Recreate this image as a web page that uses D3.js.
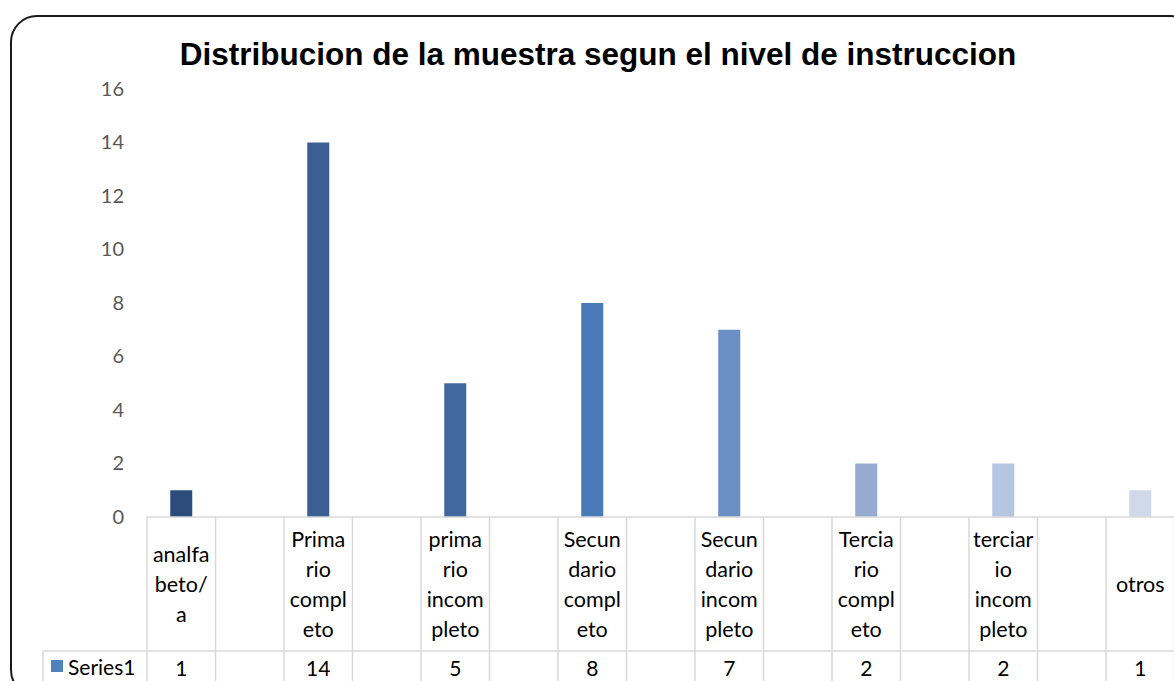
<!DOCTYPE html>
<html>
<head>
<meta charset="utf-8">
<script src="https://cdn.jsdelivr.net/npm/d3@7"></script>
<style>
  body { margin: 0; background: #fff; }
  svg { display: block; }
</style>
</head>
<body>
<div id="chart"></div>
<script>
// data: 8 categories, Excel leaves an empty slot between each one
var categories = ["analfabeto/a", "Primario completo", "primario incompleto", "Secundario completo",
  "Secundario incompleto", "Terciario completo", "terciario incompleto", "otros"];
var labelLines = [["analfa", "beto/", "a"], ["Prima", "rio", "compl", "eto"], ["prima", "rio", "incom", "pleto"],
  ["Secun", "dario", "compl", "eto"], ["Secun", "dario", "incom", "pleto"], ["Tercia", "rio", "compl", "eto"],
  ["terciar", "io", "incom", "pleto"], ["otros"]];
var values = [1, 14, 5, 8, 7, 2, 2, 1];
var barColors = ["#2c4d7b", "#3b5f91", "#41699f", "#4a7ab8", "#6b8fc4", "#95abd0", "#b6c5e0", "#d0d9ea"];
var yTicks = [0, 2, 4, 6, 8, 10, 12, 14, 16];
var seriesName = "Series1";

var width = 1174, height = 681;
var plotLeft = 147, plotRight = 1174.5, plotTop = 89, plotBottom = 517;
var rowSplit = 651;

// slots: category, blank, category, blank ...
var slots = d3.range(categories.length * 2 - 1);

var svg = d3.select("#chart").append("svg")
  .attr("width", width)
  .attr("height", height);

// chart frame (rounded, running off the right and bottom)
svg.append("rect")
  .attr("x", 11).attr("y", 16)
  .attr("width", 1185).attr("height", 680)
  .attr("rx", 26).attr("ry", 26)
  .attr("fill", "none")
  .attr("stroke", "#1a1a1a")
  .attr("stroke-width", 2);

svg.append("text")
  .attr("x", 598).attr("y", 65)
  .attr("text-anchor", "middle")
  .style("font-family", "'Liberation Sans', Arial, sans-serif")
  .style("font-weight", "bold")
  .style("font-size", "31.5px")
  .attr("fill", "#000")
  .text("Distribucion de la muestra segun el nivel de instruccion");

var x = d3.scaleBand()
  .domain(slots)
  .range([plotLeft, plotRight])
  .paddingInner(0)
  .paddingOuter(0);

var y = d3.scaleLinear()
  .domain([0, 16])
  .range([plotBottom, plotTop]);

// y axis, labels only
var yAxis = svg.append("g")
  .attr("transform", "translate(" + 124 + ",0)")
  .call(d3.axisLeft(y).tickValues(yTicks).tickSize(0).tickPadding(0));
yAxis.select(".domain").remove();
yAxis.selectAll("text")
  .attr("dy", "0.32em")
  .style("font-family", "Lato, 'Open Sans', sans-serif")
  .style("font-size", "20px")
  .attr("fill", "#595959");

// bars
var barW = 22;
svg.append("g").selectAll("rect")
  .data(values)
  .enter().append("rect")
  .attr("x", function(d, i) { return x(i * 2) + x.bandwidth() / 2 - barW / 2; })
  .attr("y", function(d) { return y(d); })
  .attr("width", barW)
  .attr("height", function(d) { return y(0) - y(d); })
  .attr("fill", function(d, i) { return barColors[i]; });

// data table lines
var grid = svg.append("g")
  .attr("stroke", "#d9d9d9")
  .attr("stroke-width", 1.5);

grid.append("line")
  .attr("x1", plotLeft).attr("x2", plotRight)
  .attr("y1", plotBottom).attr("y2", plotBottom);
grid.append("line")
  .attr("x1", 43).attr("x2", plotRight)
  .attr("y1", rowSplit).attr("y2", rowSplit);
grid.append("line")
  .attr("x1", 43).attr("x2", 43)
  .attr("y1", rowSplit).attr("y2", height);
grid.selectAll(".vline")
  .data(slots.concat([slots.length]))
  .enter().append("line")
  .attr("x1", function(d) { return plotLeft + d * x.step(); })
  .attr("x2", function(d) { return plotLeft + d * x.step(); })
  .attr("y1", plotBottom).attr("y2", height);

// category labels (wrapped as in the original)
var lineH = 30;
var headMid = (plotBottom + rowSplit) / 2;
var labels = svg.append("g")
  .style("font-family", "Lato, 'Open Sans', sans-serif")
  .style("font-size", "21.5px")
  .attr("fill", "#000")
  .attr("text-anchor", "middle");

labelLines.forEach(function(lines, i) {
  var cx = x(i * 2) + x.bandwidth() / 2;
  var top = headMid - (lines.length - 1) * lineH / 2;
  lines.forEach(function(t, j) {
    labels.append("text")
      .attr("x", cx)
      .attr("y", top + j * lineH)
      .attr("dy", "0.35em")
      .text(t);
  });
});

// value row
svg.append("g")
  .style("font-family", "Lato, 'Open Sans', sans-serif")
  .style("font-size", "21px")
  .attr("fill", "#000")
  .attr("text-anchor", "middle")
  .selectAll("text")
  .data(values)
  .enter().append("text")
  .attr("x", function(d, i) { return x(i * 2) + x.bandwidth() / 2; })
  .attr("y", 676)
  .text(function(d) { return d; });

// legend key in the table
svg.append("rect")
  .attr("x", 51).attr("y", 660)
  .attr("width", 12).attr("height", 12)
  .attr("fill", "#4f81bd");
svg.append("text")
  .attr("x", 68).attr("y", 675)
  .style("font-family", "Lato, 'Open Sans', sans-serif")
  .style("font-size", "21px")
  .attr("fill", "#000")
  .text(seriesName);
</script>
</body>
</html>
